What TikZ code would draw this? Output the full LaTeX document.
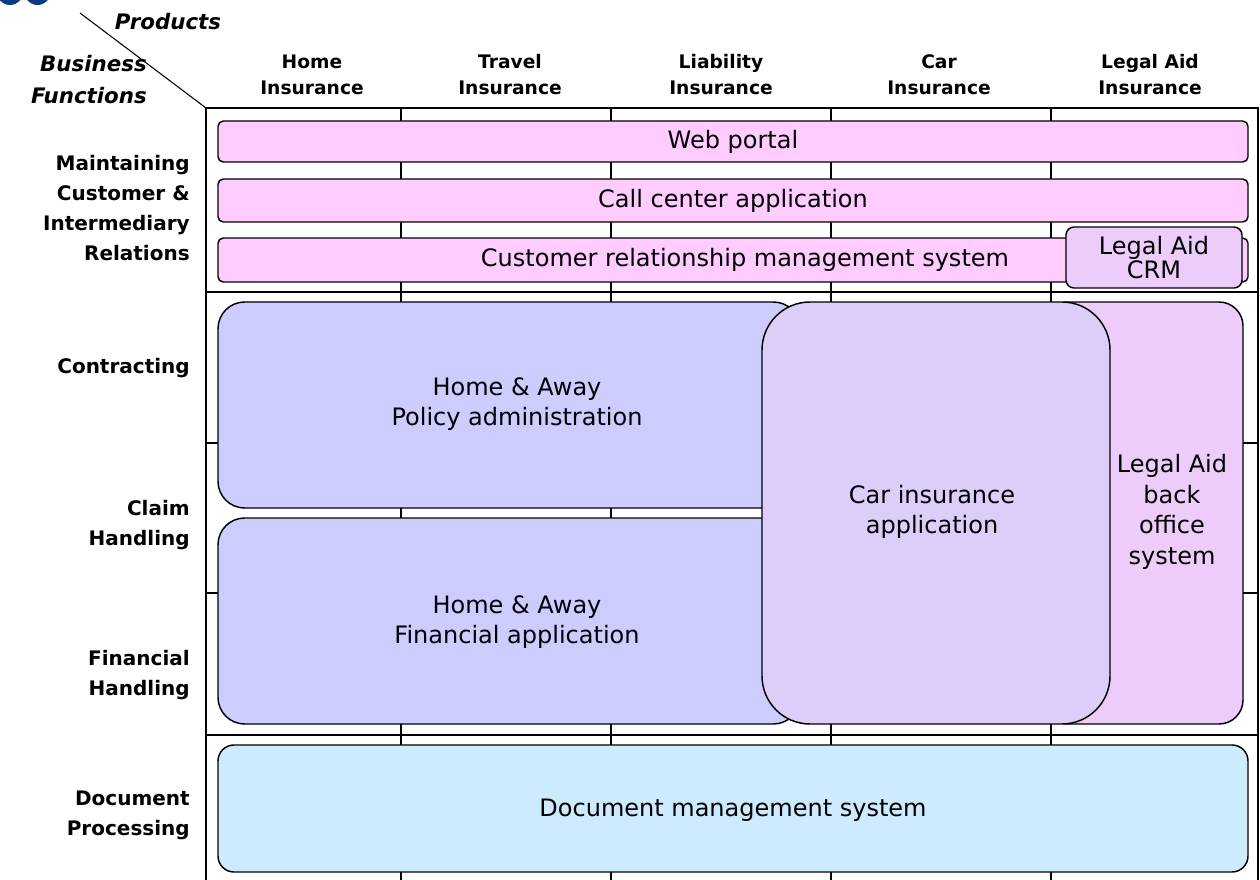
\documentclass[tikz,border=0pt]{standalone}
\usepackage{fontspec}
\setmainfont{DejaVu Sans}
\definecolor{pinkapp}{HTML}{FFCCFF}
\definecolor{lacrm}{HTML}{ECCDF9}
\definecolor{hablue}{HTML}{CCCCFF}
\definecolor{carlav}{HTML}{DCCDF9}
\definecolor{lapink}{HTML}{EECCF9}
\definecolor{docblue}{HTML}{CCEBFF}
\definecolor{logoblue}{HTML}{0F3C78}
\begin{document}
\begin{tikzpicture}[x=0.75pt,y=-0.75pt,
  gridline/.style={draw=black, line width=1.1pt},
  app/.style={draw=black, line width=1.1pt},
  apptext/.style={font=\fontsize{18}{23}\selectfont, align=center, inner sep=0pt},
  apptight/.style={font=\fontsize{18}{18}\selectfont, align=center, inner sep=0pt},
  hdr/.style={font=\bfseries\fontsize{14}{19.5}\selectfont, align=center, inner sep=0pt},
  rowlbl/.style={font=\bfseries\fontsize{15}{22.5}\selectfont, align=right, anchor=east, inner sep=0pt},
  cornerlbl/.style={font=\bfseries\itshape\fontsize{16}{24}\selectfont, inner sep=0pt}]
\useasboundingbox (0,0) rectangle (1260,880);
\clip (0,0) rectangle (1260,880);
\fill[white] (0,0) rectangle (1260,880);
% logo fragment
\fill[logoblue] (10,-8.5) circle (13.5);
\fill[logoblue] (37.5,-8.5) circle (13.5);
% table frame and grid
\draw[gridline] (206,880) -- (206,108) -- (1258,108) -- (1258,880);
\foreach \gx in {401,611,831,1051} \draw[gridline] (\gx,108) -- (\gx,880);
\foreach \gy in {292,443,593,735} \draw[gridline] (206,\gy) -- (1258,\gy);
% diagonal header divider
\coordinate (diagstart) at (80,13);
\coordinate (tablecorner) at (206,108);
\draw[line width=0.8pt] (diagstart) -- (tablecorner);
\node[cornerlbl] (products) at (168,22) {Products};
\node[cornerlbl, align=right, anchor=east] (bizfun) at (147,80) {Business\\Functions};
% column headers
\node[hdr] (hhome) at (312,75) {Home\\Insurance};
\node[hdr] (htravel) at (510,75) {Travel\\Insurance};
\node[hdr] (hliab) at (721,75) {Liability\\Insurance};
\node[hdr] (hcar) at (939,75) {Car\\Insurance};
\node[hdr] (hlegal) at (1150,75) {Legal Aid\\Insurance};
% row labels
\node[rowlbl] (rmaint) at (190,208) {Maintaining\\Customer \&\\Intermediary\\Relations};
\node[rowlbl] (rcontr) at (190,368) {Contracting};
\node[rowlbl] (rclaim) at (190,525) {Claim\\Handling};
\node[rowlbl] (rfin) at (190,675) {Financial\\Handling};
\node[rowlbl] (rdoc) at (190,815) {Document\\Processing};
% application shapes
\draw[app, fill=pinkapp, rounded corners=4pt] (218,121) rectangle (1248,162);
\draw[app, fill=pinkapp, rounded corners=4pt] (218,179) rectangle (1248,222);
\draw[app, fill=pinkapp, rounded corners=4pt] (218,238) rectangle (1248,282);
\draw[app, fill=lacrm, rounded corners=6pt] (1066,227) rectangle (1242,288);
\draw[app, fill=lapink, rounded corners=18pt] (1045,302) rectangle (1243,724);
\draw[app, fill=hablue, rounded corners=20pt] (218,302) rectangle (800,508);
\draw[app, fill=hablue, rounded corners=20pt] (218,518) rectangle (800,724);
\draw[app, fill=carlav, rounded corners=36pt] (762,302) rectangle (1110,724);
\draw[app, fill=docblue, rounded corners=12pt] (218,745) rectangle (1248,872);
% application names
\node[apptext] (web) at (733,141.5) {Web portal};
\node[apptext] (call) at (733,200.5) {Call center application};
\node[apptext] (crm) at (745,260) {Customer relationship management system};
\node[apptight] (lacrmtxt) at (1154,258) {Legal Aid\\CRM};
\node[apptext] (labo) at (1172,512) {Legal Aid\\back\\office\\system};
\node[apptext] (hapol) at (517,404) {Home \& Away\\Policy administration};
\node[apptext] (hafin) at (517,622) {Home \& Away\\Financial application};
\node[apptext] (carapp) at (932,512) {Car insurance\\application};
\node[apptext] (docms) at (733,810) {Document management system};
\end{tikzpicture}
\end{document}
